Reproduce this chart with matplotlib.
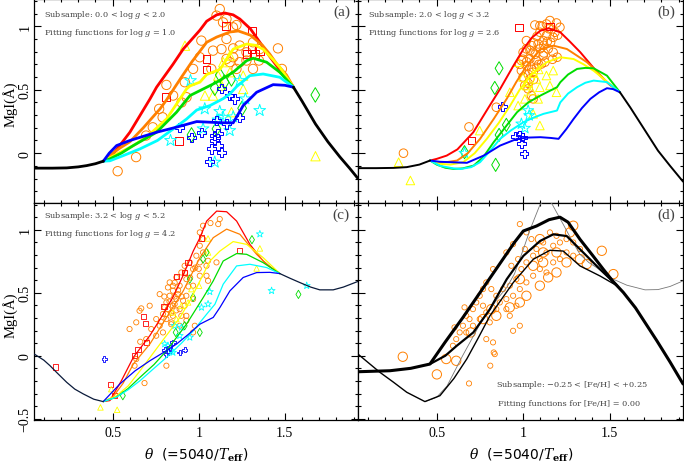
import matplotlib
matplotlib.use('Agg')
import matplotlib.pyplot as plt
from matplotlib.ticker import MultipleLocator, FuncFormatter

plt.rcParams['font.family'] = ['DejaVu Sans']
plt.rcParams['mathtext.fontset'] = 'dejavuserif'

# ------------------------------------------------------------
# colours of the fitting functions / subsamples
# ------------------------------------------------------------
RED, ORANGE, YELLOW = '#ff0000', '#ff8000', '#ffff00'
GREEN, CYAN, BLUE = '#00dd00', '#00ffff', '#0000ff'
NAVY = '#0a1a3a'

# ============================================================
# panel (a): 0.0 < log g < 2.0, fitting functions for log g = 1.0
# ============================================================
A_BLK_L_T = [0.045, 0.15, 0.233, 0.30, 0.349, 0.40, 0.446]
A_BLK_L_Y = [-0.118, -0.118, -0.116, -0.108, -0.098, -0.083, -0.063]
A_BLK_R_T = [1.55, 1.60, 1.678, 1.75, 1.82, 1.877, 1.925]
A_BLK_R_Y = [0.52, 0.41, 0.23, 0.09, -0.03, -0.12, -0.20]
A_RED_T = [0.446, 0.50, 0.523, 0.60, 0.717, 0.755, 0.85, 0.91, 1.007, 1.046, 1.104, 1.15, 1.20, 1.239, 1.30, 1.355, 1.413, 1.452, 1.49, 1.55]
A_RED_Y = [-0.063, -0.01, 0.028, 0.165, 0.428, 0.52, 0.70, 0.821, 0.97, 1.04, 1.09, 1.105, 1.09, 1.057, 0.98, 0.874, 0.76, 0.69, 0.628, 0.52]
A_ORA_T = [0.446, 0.50, 0.542, 0.60, 0.678, 0.775, 0.813, 0.90, 0.96, 1.046, 1.104, 1.181, 1.23, 1.30, 1.37, 1.413, 1.452, 1.51, 1.55]
A_ORA_Y = [-0.063, 0.0, 0.04, 0.09, 0.2, 0.349, 0.42, 0.6, 0.72, 0.874, 0.915, 0.955, 0.963, 0.93, 0.85, 0.78, 0.705, 0.615, 0.52]
A_YEL_T = [0.446, 0.52, 0.62, 0.70, 0.813, 0.852, 0.929, 0.949, 1.007, 1.046, 1.123, 1.2, 1.278, 1.33, 1.374, 1.43, 1.471, 1.55]
A_YEL_Y = [-0.063, -0.01, 0.06, 0.13, 0.27, 0.349, 0.506, 0.53, 0.56, 0.62, 0.66, 0.82, 0.86, 0.85, 0.82, 0.74, 0.677, 0.52]
A_GRN_T = [0.446, 0.484, 0.55, 0.62, 0.755, 0.871, 0.949, 1.026, 1.104, 1.2, 1.278, 1.316, 1.394, 1.471, 1.55]
A_GRN_Y = [-0.063, -0.045, 0.0, 0.06, 0.165, 0.323, 0.454, 0.506, 0.559, 0.638, 0.729, 0.748, 0.717, 0.638, 0.52]
A_CYN_T = [0.446, 0.484, 0.56, 0.659, 0.76, 0.852, 0.93, 0.988, 1.065, 1.142, 1.181, 1.22, 1.297, 1.374, 1.471, 1.55]
A_CYN_Y = [-0.063, -0.06, -0.02, 0.034, 0.1, 0.191, 0.27, 0.34, 0.375, 0.43, 0.467, 0.525, 0.611, 0.624, 0.598, 0.52]
A_BLU_T = [0.446, 0.48, 0.523, 0.6, 0.755, 0.871, 0.988, 1.065, 1.13, 1.2, 1.258, 1.336, 1.432, 1.50, 1.55]
A_BLU_Y = [-0.063, 0.0, 0.06, 0.1, 0.165, 0.205, 0.249, 0.244, 0.24, 0.239, 0.375, 0.48, 0.54, 0.535, 0.52]

A_CIRC_T = [1.122, 1.103, 1.161, 1.199, 1.219, 1.141, 1.015, 1.161, 1.083, 1.132, 1.2, 1.238, 1.277, 1.315, 1.354, 1.46, 1.2, 1.238, 1.18, 1.277,
            1.219, 1.35, 1.483, 1.006, 0.967, 0.919, 0.812, 0.851, 0.929, 0.77, 0.79, 0.9, 0.733, 0.694, 0.636, 0.529, 1.073, 1.161, 1.315]
A_CIRC_Y = [1.136, 1.084, 1.058, 0.992, 1.01, 1.031, 0.887, 0.9, 0.808, 0.82, 0.826, 0.848, 0.795, 0.874, 0.82, 0.826, 0.756, 0.717, 0.717, 0.73,
            0.664, 0.73, 0.664, 0.756, 0.664, 0.559, 0.538, 0.454, 0.441, 0.349, 0.283, 0.4, 0.204, 0.139, -0.031, -0.142, 0.664, 0.743, 0.664]
A_SQ_T = [1.157, 1.045, 1.045, 0.81, 0.884, 1.31, 1.306, 1.354, 1.277, 1.325]
A_SQ_Y = [1.005, 0.743, 0.659, 0.441, 0.094, 0.961, 0.82, 0.808, 0.782, 0.782]
A_TRI_T = [0.92, 1.142, 1.113, 1.181, 1.133, 1.036, 1.258, 1.258, 1.19, 1.181, 1.083, 1.678]
A_TRI_Y = [0.847, 0.717, 0.611, 0.638, 0.532, 0.454, 0.611, 0.506, 0.323, 0.769, 0.454, -0.024]
A_DIA_T = [1.122, 1.19, 1.093, 1.103, 0.958, 1.677, 1.252, 1.15]
A_DIA_Y = [0.616, 0.585, 0.512, 0.192, 0.144, 0.459, 0.354, 0.56]
A_STAR_T = [0.952, 1.035, 1.122, 1.112, 1.025, 1.18, 0.836, 1.093, 1.271, 1.354, 1.238, 1.2, 1.141]
A_STAR_Y = [0.572, 0.349, 0.328, 0.262, 0.192, 0.178, 0.1, -0.071, 0.428, 0.336, 0.572, 0.286, 0.283]
A_PLUS_T = [1.132, 1.18, 1.209, 1.161, 1.103, 1.112, 1.093, 1.112, 1.073, 1.132, 1.064, 1.016, 0.89, 0.958, 1.238, 1.093]
A_PLUS_Y = [0.507, 0.454, 0.428, 0.231, 0.257, 0.152, 0.1, 0.06, 0.034, 0.005, -0.066, 0.165, 0.204, 0.126, 0.283, 0.139]
A_AST_T = [0.535, 0.574, 0.661, 0.68, 0.593, 1.325, 1.386, 1.416, 1.474, 1.495, 1.678, 1.726, 0.91]
A_AST_Y = [-0.066, -0.084, 0.223, 0.17, 0.039, 0.953, 0.906, 0.454, 0.652, 0.566, 0.318, 0.144, 0.472]

# ============================================================
# panel (b): 2.0 < log g < 3.2, fitting functions for log g = 2.6
# ============================================================
B_BLK_L_T = [0.045, 0.15, 0.25, 0.327, 0.40, 0.462]
B_BLK_L_Y = [-0.118, -0.118, -0.116, -0.11, -0.09, -0.058]
B_BLK_R_T = [1.56, 1.62, 1.70, 1.78, 1.85, 1.925]
B_BLK_R_Y = [0.48, 0.36, 0.19, 0.02, -0.10, -0.224]
B_RED_T = [0.462, 0.50, 0.558, 0.62, 0.712, 0.80, 0.867, 0.94, 1.002, 1.05, 1.1, 1.148, 1.215, 1.27, 1.331, 1.39, 1.446, 1.50, 1.56]
B_RED_Y = [-0.058, -0.045, -0.019, 0.03, 0.165, 0.36, 0.506, 0.68, 0.821, 0.91, 0.965, 0.984, 0.953, 0.88, 0.795, 0.70, 0.611, 0.54, 0.48]
B_ORA_T = [0.462, 0.502, 0.56, 0.618, 0.68, 0.751, 0.83, 0.905, 0.96, 1.021, 1.1, 1.176, 1.253, 1.31, 1.369, 1.43, 1.485, 1.56]
B_ORA_Y = [-0.058, -0.071, -0.07, -0.058, 0.0, 0.113, 0.27, 0.428, 0.56, 0.69, 0.821, 0.847, 0.821, 0.77, 0.717, 0.64, 0.559, 0.48]
B_YEL_T = [0.462, 0.519, 0.58, 0.654, 0.72, 0.79, 0.86, 0.925, 0.98, 1.041, 1.137, 1.215, 1.292, 1.35, 1.408, 1.48, 1.56]
B_YEL_Y = [-0.058, -0.084, -0.09, -0.071, 0.0, 0.113, 0.24, 0.375, 0.5, 0.611, 0.717, 0.756, 0.742, 0.70, 0.65, 0.57, 0.48]
B_GRN_T = [0.462, 0.50, 0.55, 0.598, 0.65, 0.714, 0.77, 0.83, 0.9, 0.965, 1.03, 1.1, 1.196, 1.215, 1.26, 1.312, 1.36, 1.408, 1.485, 1.56]
B_GRN_Y = [-0.058, -0.09, -0.115, -0.124, -0.12, -0.098, -0.03, 0.087, 0.21, 0.323, 0.40, 0.454, 0.52, 0.559, 0.62, 0.664, 0.672, 0.669, 0.611, 0.48]
B_CYN_T = [0.462, 0.52, 0.598, 0.637, 0.70, 0.751, 0.81, 0.867, 0.93, 1.002, 1.06, 1.118, 1.196, 1.215, 1.26, 1.312, 1.36, 1.408, 1.485, 1.56]
B_CYN_Y = [-0.058, -0.10, -0.12, -0.125, -0.11, -0.071, 0.02, 0.113, 0.18, 0.244, 0.28, 0.31, 0.336, 0.40, 0.47, 0.52, 0.555, 0.572, 0.56, 0.48]
B_BLU_T = [0.462, 0.52, 0.579, 0.675, 0.772, 0.867, 0.965, 1.03, 1.1, 1.16, 1.205, 1.25, 1.292, 1.34, 1.389, 1.44, 1.485, 1.52, 1.56]
B_BLU_Y = [-0.058, -0.068, -0.071, -0.076, -0.019, 0.06, 0.113, 0.123, 0.126, 0.12, 0.113, 0.19, 0.27, 0.355, 0.428, 0.48, 0.512, 0.505, 0.48]

B_CIRC_T = [1.135, 1.155, 1.193, 1.068, 1.097, 1.135, 1.184, 1.097, 1.019, 1.0, 1.039, 1.077, 1.116, 1.145, 1.174, 1.197, 1.019, 1.058, 1.039, 1.01,
            1.077, 1.106, 0.99, 1.116, 1.159, 1.048, 1.087, 1.019, 1.058, 1.029, 1.048, 1.058, 0.845, 0.687, 0.308, 0.99, 1.126, 1.174, 1.213, 1.097,
            1.0, 1.03, 1.07, 1.09, 1.12, 1.06, 1.04, 1.08, 1.15, 1.11, 1.02, 0.98, 1.0, 1.05, 1.03, 1.06, 1.12, 1.17, 1.14, 1.2]
B_CIRC_Y = [1.018, 1.045, 1.026, 1.01, 0.953, 0.927, 0.953, 0.822, 0.887, 0.795, 0.743, 0.73, 0.769, 0.822, 0.795, 0.756, 0.69, 0.638, 0.585, 0.533,
            0.677, 0.703, 0.651, 0.887, 0.874, 0.848, 0.861, 0.822, 0.795, 0.507, 0.454, 0.428, 0.362, 0.207, 0.0, 0.73, 0.717, 0.913, 0.992, 1.005,
            0.6, 0.62, 0.78, 0.7, 0.85, 0.87, 0.81, 0.92, 0.98, 1.0, 0.72, 0.7, 0.74, 0.66, 0.55, 0.58, 0.79, 0.74, 0.88, 0.93]
B_SQ_T = [0.977, 0.7, 1.155]
B_SQ_Y = [0.99, 0.1, 1.0]
B_TRI_T = [1.077, 1.097, 1.019, 1.048, 0.971, 1.01, 1.135, 1.174, 1.193, 1.097, 0.971, 0.923, 1.155, 0.749, 0.28, 0.348, 1.087, 1.058, 1.03, 1.06, 1.0, 1.09]
B_TRI_Y = [0.585, 0.52, 0.533, 0.493, 0.375, 0.428, 0.612, 0.651, 0.48, 0.218, 0.717, 0.48, 0.533, 0.178, -0.071, -0.215, 0.428, 0.31, 0.56, 0.63, 0.6, 0.66]
B_DIA_T = [0.861, 0.836, 0.903, 0.861, 0.841, 0.661]
B_DIA_Y = [0.669, 0.514, 0.223, 0.144, -0.092, 0.008]
B_STAR_T = [1.029, 1.035, 0.99, 1.01, 0.661]
B_STAR_Y = [0.336, 0.297, 0.231, 0.197, 0.0]
B_PLUS_T = [0.88, 0.957, 0.981, 0.996, 0.99, 1.006]
B_PLUS_Y = [0.37, 0.134, 0.144, 0.126, 0.073, -0.005]
B_AST_T = [0.153, 0.139, 0.213, 0.172, 0.222, 0.261, 0.284, 0.333, 0.373, 0.366, 0.41, 0.555, 0.613, 0.642, 0.71, 0.83, 0.899, 1.029, 1.062, 1.039]
B_AST_Y = [0.003, -0.181, -0.171, -0.129, -0.123, -0.01, -0.126, -0.108, -0.152, -0.037, 0.02, -0.017, -0.058, 0.0, 0.16, 0.263, 0.349, 0.651, 0.722, 0.349]

# ============================================================
# panel (c): 3.2 < log g < 5.2, fitting functions for log g = 4.2
# ============================================================
C_BLK_L_T = [0.045, 0.10, 0.136, 0.18, 0.233, 0.28, 0.329, 0.39, 0.445]
C_BLK_L_Y = [0.013, -0.035, -0.079, -0.14, -0.211, -0.265, -0.303, -0.345, -0.364]
C_BLK_R_T = [1.471, 1.53, 1.587, 1.65, 1.703, 1.781, 1.84, 1.925]
C_BLK_R_Y = [0.652, 0.615, 0.581, 0.545, 0.523, 0.523, 0.545, 0.59]
C_RED_T = [0.445, 0.484, 0.55, 0.62, 0.716, 0.78, 0.852, 0.91, 0.968, 1.007, 1.046, 1.104, 1.162, 1.22, 1.297, 1.374, 1.42, 1.471]
C_RED_Y = [-0.364, -0.356, -0.2, -0.013, 0.16, 0.3, 0.47, 0.64, 0.831, 0.937, 1.069, 1.148, 1.143, 1.069, 0.884, 0.752, 0.70, 0.652]
C_ORA_T = [0.445, 0.50, 0.56, 0.62, 0.716, 0.813, 0.91, 1.007, 1.084, 1.162, 1.239, 1.336, 1.40, 1.471]
C_ORA_Y = [-0.364, -0.33, -0.22, -0.066, 0.093, 0.304, 0.515, 0.779, 0.937, 1.005, 0.964, 0.805, 0.72, 0.652]
C_YEL_T = [0.445, 0.52, 0.59, 0.659, 0.775, 0.891, 0.95, 1.007, 1.065, 1.123, 1.2, 1.278, 1.374, 1.471]
C_YEL_Y = [-0.364, -0.32, -0.24, -0.119, 0.093, 0.304, 0.44, 0.594, 0.752, 0.831, 0.906, 0.884, 0.779, 0.652]
C_GRN_T = [0.445, 0.52, 0.59, 0.659, 0.74, 0.813, 0.929, 1.026, 1.084, 1.142, 1.22, 1.278, 1.374, 1.471]
C_GRN_Y = [-0.364, -0.33, -0.26, -0.171, -0.07, 0.04, 0.251, 0.462, 0.594, 0.752, 0.811, 0.805, 0.739, 0.652]
C_CYN_T = [0.445, 0.52, 0.59, 0.659, 0.74, 0.813, 0.9, 0.968, 1.046, 1.094, 1.142, 1.22, 1.297, 1.394, 1.471]
C_CYN_Y = [-0.364, -0.33, -0.27, -0.198, -0.1, -0.013, 0.1, 0.198, 0.33, 0.409, 0.568, 0.713, 0.726, 0.70, 0.652]
C_BLU_T = [0.445, 0.542, 0.63, 0.716, 0.80, 0.871, 0.94, 1.007, 1.084, 1.123, 1.181, 1.258, 1.336, 1.413, 1.471]
C_BLU_Y = [-0.364, -0.224, -0.12, -0.04, 0.03, 0.093, 0.17, 0.251, 0.304, 0.383, 0.515, 0.621, 0.66, 0.662, 0.652]

C_CIRC_T = [1.068, 1.025, 1.006, 1.025, 0.986, 0.948, 0.918, 0.899, 0.967, 1.006, 1.045, 0.928, 0.87, 0.889, 0.85, 0.831, 0.87, 0.812, 0.85, 0.821,
            0.792, 0.812, 0.85, 0.773, 0.792, 0.753, 0.773, 0.715, 0.656, 0.637, 0.66, 0.598, 0.666, 0.928, 0.967, 1.006, 1.045, 1.103, 1.113, 1.122,
            0.967, 0.918, 0.889, 0.928, 0.977, 0.967, 0.928, 0.889, 0.812, 0.685, 0.85, 0.879, 0.909, 0.831, 0.821, 0.86, 0.899, 0.802, 0.841, 0.753,
            0.724, 0.695, 0.637, 0.627, 1.006, 1.025, 1.054, 1.054, 0.84, 0.86, 0.88, 0.83, 0.87, 0.9, 0.94, 0.95, 0.81, 0.8, 0.86, 0.92,
            0.98, 1.0, 0.84, 0.78]
C_CIRC_Y = [1.053, 0.926, 0.873, 0.82, 0.794, 0.741, 0.714, 0.661, 0.688, 0.741, 0.714, 0.608, 0.622, 0.556, 0.516, 0.476, 0.45, 0.423, 0.397, 0.37,
            0.331, 0.291, 0.317, 0.238, 0.185, 0.159, 0.489, 0.397, 0.357, 0.265, 0.111, 0.212, 0.376, 0.476, 0.556, 0.635, 0.635, 0.741, 1.045, 1.085,
            0.45, 0.397, 0.37, 0.317, 0.238, 0.185, 0.278, 0.238, -0.079, -0.217, 0.556, 0.489, 0.437, 0.582, 0.542, 0.41, 0.317, 0.384, 0.265, 0.291,
            0.212, 0.132, -0.026, -0.079, 0.979, 1.032, 0.754, 0.595, 0.34, 0.47, 0.52, 0.43, 0.36, 0.47, 0.55, 0.62, 0.33, 0.47, 0.58, 0.66,
            0.7, 0.69, 0.25, 0.27]
C_SQ_T = [0.167, 0.487, 0.511, 0.627, 0.647, 0.695, 0.68, 0.689, 0.798, 0.87, 0.918, 1.016, 1.239, 0.938]
C_SQ_Y = [-0.09, -0.23, -0.317, 0.0, 0.048, 0.106, 0.312, 0.259, 0.389, 0.63, 0.661, 0.934, 0.833, 0.741]
C_TRI_T = [0.429, 0.526, 0.492, 0.957, 0.899, 0.87, 0.938, 1.002, 1.054, 1.054, 1.355, 1.336, 0.85]
C_TRI_Y = [-0.41, -0.429, -0.265, 0.529, 0.397, 0.291, 0.423, 0.556, 0.82, 0.931, 0.852, 0.693, 0.344]
C_DIA_T = [0.559, 1.309, 1.579, 1.006, 0.967, 0.918, 1.025, 1.045, 0.948, 0.866]
C_DIA_Y = [-0.317, 0.921, 0.487, 0.185, 0.463, 0.238, 0.767, 0.82, 0.608, 0.185]
C_STAR_T = [1.355, 1.423, 1.627, 1.064, 1.054, 1.016, 0.948, 0.899, 0.821, 0.84, 0.85, 0.802, 0.889, 0.86]
C_STAR_Y = [0.966, 0.516, 0.556, 0.508, 0.41, 0.384, 0.146, 0.225, 0.079, 0.04, 0.026, 0.093, 0.159, 0.238]
C_PLUS_T = [0.452, 0.889, 0.918, 0.812, 0.821, 0.802, 0.831, 0.85]
C_PLUS_Y = [-0.026, 0.026, 0.048, 0.013, 0.032, 0.048, 0.066, 0.106]
C_AST_T = [0.132, 0.136, 0.248, 0.355, 0.39, 0.448, 0.48, 0.529, 0.515, 0.599, 0.606, 0.612, 0.647, 0.709, 0.823, 1.006, 1.161, 1.19, 1.249,
           1.443, 1.462, 1.53, 1.55, 1.579, 1.841, 1.808]
C_AST_Y = [-0.071, -0.193, -0.344, -0.357, -0.225, -0.291, -0.265, -0.198, -0.362, -0.362, -0.206, -0.238, -0.013, 0.153, 0.238, 0.595, 1.053,
           1.077, 0.934, 0.608, 0.468, 0.524, 0.556, 0.64, 0.595, 0.484]

# ============================================================
# panel (d): -0.25 < [Fe/H] < +0.25, fitting functions for [Fe/H] = 0.00
# ============================================================
D_G10_T = [0.045, 0.23, 0.35, 0.461, 0.55, 0.65, 0.75, 0.85, 0.95, 1.001, 1.078, 1.15, 1.213, 1.26, 1.329, 1.40, 1.464, 1.52, 1.58, 1.65,
           1.773, 1.85, 1.925]
D_G10_Y = [-0.127, -0.119, -0.10, -0.066, 0.11, 0.30, 0.50, 0.70, 0.90, 0.99, 1.03, 1.08, 1.10, 1.06, 0.924, 0.80, 0.686, 0.59, 0.502, 0.38,
           0.12, -0.05, -0.224]
D_G26_T = [0.461, 0.55, 0.616, 0.712, 0.808, 0.905, 1.001, 1.098, 1.175, 1.252, 1.329, 1.445, 1.541]
D_G26_Y = [-0.066, 0.0, 0.079, 0.185, 0.37, 0.607, 0.792, 0.911, 0.964, 0.95, 0.845, 0.686, 0.56]
D_G42_T = [0.045, 0.10, 0.172, 0.25, 0.327, 0.432, 0.519, 0.60, 0.674, 0.74, 0.808, 0.943, 1.059, 1.155, 1.232, 1.329, 1.445, 1.55]
D_G42_Y = [0.013, -0.05, -0.132, -0.21, -0.29, -0.364, -0.317, -0.18, -0.026, 0.14, 0.317, 0.581, 0.766, 0.837, 0.831, 0.713, 0.633, 0.55]
D_GRY_T = [0.432, 0.50, 0.56, 0.65, 0.75, 0.85, 0.905, 0.95, 1.0, 1.04, 1.098, 1.13, 1.165, 1.232, 1.28, 1.329, 1.38, 1.425, 1.522, 1.60,
           1.705, 1.78, 1.85, 1.925]
D_GRY_Y = [-0.364, -0.33, -0.24, 0.0, 0.25, 0.45, 0.541, 0.65, 0.84, 1.0, 1.2, 1.24, 1.21, 1.043, 0.92, 0.805, 0.74, 0.70, 0.607, 0.56,
           0.523, 0.525, 0.55, 0.594]

D_CS_T = [0.981, 1.019, 0.942, 0.903, 0.826, 0.787, 0.768, 0.749, 0.729, 0.71, 0.661, 0.671, 0.69, 0.652, 0.633, 0.603, 0.613, 0.594, 0.671, 0.71,
          0.749, 0.787, 0.807, 0.826, 0.787, 0.81, 0.83, 0.836, 0.687, 0.942, 0.981, 0.923, 0.903, 0.865, 0.845, 0.884, 0.923, 0.961, 0.99, 1.019,
          1.058, 1.097, 1.135, 1.174, 1.213, 1.251, 1.29, 1.329, 1.097, 1.135, 1.058, 1.019, 0.981, 0.942, 0.961, 0.903, 0.845, 0.816, 0.768, 1.174,
          1.213, 1.251, 1.29, 1.077, 1.116, 1.155, 1.193, 1.048, 1.01, 0.971, 0.932]
D_CS_Y = [1.045, 0.979, 0.886, 0.82, 0.688, 0.582, 0.529, 0.476, 0.423, 0.37, 0.384, 0.317, 0.291, 0.238, 0.185, 0.225, 0.132, 0.079, 0.185, 0.238,
          0.291, 0.344, 0.265, 0.106, 0.132, -0.079, 0.026, 0.013, -0.22, 0.198, 0.238, 0.317, 0.45, 0.423, 0.476, 0.529, 0.556, 0.608, 0.688, 0.741,
          0.794, 0.767, 0.82, 0.873, 0.899, 0.926, 0.899, 0.847, 0.688, 0.661, 0.635, 0.582, 0.529, 0.476, 0.397, 0.37, 0.37, 0.529, 0.397, 0.741,
          0.767, 0.82, 0.794, 0.847, 0.899, 0.979, 0.952, 0.926, 0.847, 0.767, 0.714]
D_CB_T = [1.29, 1.271, 1.455, 1.522, 1.116, 1.145, 1.193, 1.097, 1.019, 0.981, 0.923, 0.845, 0.816, 0.768, 0.697, 0.613, 0.555, 0.501, 0.304, 1.097,
          1.193, 1.058, 0.981, 1.329, 1.368, 1.251, 1.116]
D_CB_Y = [1.032, 0.979, 0.833, 0.648, 0.82, 0.622, 0.661, 0.556, 0.476, 0.423, 0.384, 0.317, 0.37, 0.291, 0.185, -0.04, -0.026, -0.148, -0.008, 0.926,
          0.82, 0.714, 0.608, 0.767, 0.728, 0.741, 0.741]
D_AB_T = [1.383, 1.416, 1.677, 1.725, 1.377, 0.652, 0.671, 0.571, 0.536, 0.516, 0.4, 0.362, 0.255, 0.153, 0.222, 0.28, 0.371, 0.385, 1.522, 1.547]
D_AB_Y = [0.905, 0.444, 0.31, 0.138, 0.714, 0.217, 0.172, -0.079, -0.093, -0.119, 0.013, -0.04, -0.026, -0.008, -0.138, -0.138, -0.164, -0.225, 0.661, 0.556]
D_AS_T = [0.443, 0.474, 0.133, 0.241, 0.346, 0.511, 0.594, 0.603, 0.613, 0.526, 0.584, 0.632, 0.826, 0.903, 1.039, 1.155, 1.464, 1.58, 1.832, 1.803, 1.445]
D_AS_Y = [-0.291, -0.265, -0.193, -0.344, -0.357, -0.362, -0.365, -0.206, -0.233, -0.206, 0.026, -0.005, 0.251, 0.336, 0.339, 0.926, 0.463, 0.635, 0.595, 0.484, 0.601]

THETA_LIM = (0.045, 1.925)
TOP_YLIM = (-0.395, 1.215)
BOT_YLIM = (-0.51, 1.21)

AST = (6, 2, 0)
TXT_C = '#444444'
SERIF = 'Liberation Serif'


def num_fmt(v, pos):
    return ('%g' % v).replace('-', '\u2212')


def style_axis(ax, ylim, xlabels, ylabels):
    ax.set_xlim(*THETA_LIM)
    ax.set_ylim(*ylim)
    ax.xaxis.set_major_locator(MultipleLocator(0.5))
    ax.xaxis.set_minor_locator(MultipleLocator(0.1))
    ax.yaxis.set_major_locator(MultipleLocator(0.5))
    ax.yaxis.set_minor_locator(MultipleLocator(0.1))
    ax.xaxis.set_major_formatter(FuncFormatter(num_fmt))
    ax.yaxis.set_major_formatter(FuncFormatter(num_fmt))
    ax.tick_params(which='both', direction='in', top=True, right=True, width=0.8, labelsize=10)
    ax.tick_params(which='major', length=5)
    ax.tick_params(which='minor', length=2.5)
    ax.tick_params(axis='x', pad=4)
    ax.tick_params(axis='y', pad=2)
    for sp in ax.spines.values():
        sp.set_linewidth(0.9)
    if not xlabels:
        ax.set_xticklabels([])
    if not ylabels:
        ax.set_yticklabels([])
    for lbl in ax.get_xticklabels() + ax.get_yticklabels():
        lbl.set_family(SERIF)
    if ylabels:
        for lbl in ax.get_yticklabels():
            lbl.set_rotation(90)
            lbl.set_va('center')


def marks(ax, t, y, marker, color, s, lw=0.7):
    ax.scatter(t, y, s=s, marker=marker, facecolors='none', edgecolors=color, linewidths=lw, zorder=2)


def line(ax, t, y, color, lw):
    ax.plot(t, y, color=color, lw=lw, zorder=3, solid_joinstyle='round', solid_capstyle='round')


def note(ax, x, y, s):
    ax.text(x, y, s, transform=ax.transAxes, fontsize=5.9, color=TXT_C, family='DejaVu Serif')


def tag(ax, y, s):
    ax.text(0.975, y, s, transform=ax.transAxes, ha='right', va='center', fontsize=11,
            family=SERIF, color=TXT_C)


fig = plt.figure(figsize=(6.84, 4.64), dpi=100)
ax_a = fig.add_axes([0.0502, 0.5597, 0.4732, 0.4403])
ax_b = fig.add_axes([0.5234, 0.5597, 0.4752, 0.4403])
ax_c = fig.add_axes([0.0502, 0.0927, 0.4732, 0.4670])
ax_d = fig.add_axes([0.5234, 0.0927, 0.4752, 0.4670])

# --- (a) ---
ax = ax_a
marks(ax, A_CIRC_T, A_CIRC_Y, 'o', ORANGE, 45)
marks(ax, A_SQ_T, A_SQ_Y, 's', RED, 32)
marks(ax, A_TRI_T, A_TRI_Y, '^', YELLOW, 45)
marks(ax, A_DIA_T, A_DIA_Y, 'd', GREEN, 55)
marks(ax, A_STAR_T, A_STAR_Y, '*', CYAN, 80)
marks(ax, A_PLUS_T, A_PLUS_Y, 'P', BLUE, 45)
marks(ax, A_AST_T, A_AST_Y, AST, 'black', 45, 0.9)
lw = 2.0
line(ax, A_RED_T, A_RED_Y, RED, lw)
line(ax, A_ORA_T, A_ORA_Y, ORANGE, lw)
line(ax, A_YEL_T, A_YEL_Y, YELLOW, lw)
line(ax, A_GRN_T, A_GRN_Y, GREEN, lw)
line(ax, A_CYN_T, A_CYN_Y, CYAN, lw)
line(ax, A_BLU_T, A_BLU_Y, BLUE, lw)
line(ax, A_BLK_L_T, A_BLK_L_Y, 'black', lw)
line(ax, A_BLK_R_T, A_BLK_R_Y, 'black', lw)
style_axis(ax, TOP_YLIM, False, True)
note(ax, 0.03, 0.915, 'Subsample: 0.0 < log $g$ < 2.0')
note(ax, 0.03, 0.83, 'Fitting functions for log $g$ = 1.0')
tag(ax, 0.94, '(a)')

# --- (b) ---
ax = ax_b
marks(ax, B_CIRC_T, B_CIRC_Y, 'o', ORANGE, 38)
marks(ax, B_SQ_T, B_SQ_Y, 's', RED, 28)
marks(ax, B_TRI_T, B_TRI_Y, '^', YELLOW, 38)
marks(ax, B_DIA_T, B_DIA_Y, 'd', GREEN, 45)
marks(ax, B_STAR_T, B_STAR_Y, '*', CYAN, 70)
marks(ax, B_PLUS_T, B_PLUS_Y, 'P', BLUE, 38)
marks(ax, B_AST_T, B_AST_Y, AST, 'black', 35, 0.8)
lw = 1.4
line(ax, B_RED_T, B_RED_Y, RED, lw)
line(ax, B_ORA_T, B_ORA_Y, ORANGE, lw)
line(ax, B_YEL_T, B_YEL_Y, YELLOW, lw)
line(ax, B_GRN_T, B_GRN_Y, GREEN, lw)
line(ax, B_CYN_T, B_CYN_Y, CYAN, lw)
line(ax, B_BLU_T, B_BLU_Y, BLUE, lw)
line(ax, B_BLK_L_T, B_BLK_L_Y, 'black', lw)
line(ax, B_BLK_R_T, B_BLK_R_Y, 'black', lw)
style_axis(ax, TOP_YLIM, False, False)
note(ax, 0.03, 0.915, 'Subsample: 2.0 < log $g$ < 3.2')
note(ax, 0.03, 0.83, 'Fitting functions for log $g$ = 2.6')
tag(ax, 0.94, '(b)')

# --- (c) ---
ax = ax_c
marks(ax, C_CIRC_T, C_CIRC_Y, 'o', ORANGE, 14, 0.6)
marks(ax, C_SQ_T, C_SQ_Y, 's', RED, 14, 0.6)
marks(ax, C_TRI_T, C_TRI_Y, '^', YELLOW, 16, 0.6)
marks(ax, C_DIA_T, C_DIA_Y, 'd', GREEN, 18, 0.6)
marks(ax, C_STAR_T, C_STAR_Y, '*', CYAN, 28, 0.6)
marks(ax, C_PLUS_T, C_PLUS_Y, 'P', BLUE, 16, 0.6)
marks(ax, C_AST_T, C_AST_Y, AST, 'black', 12, 0.7)
lw = 0.9
line(ax, C_RED_T, C_RED_Y, RED, lw)
line(ax, C_ORA_T, C_ORA_Y, ORANGE, lw)
line(ax, C_YEL_T, C_YEL_Y, YELLOW, lw)
line(ax, C_GRN_T, C_GRN_Y, GREEN, lw)
line(ax, C_CYN_T, C_CYN_Y, CYAN, lw)
line(ax, C_BLU_T, C_BLU_Y, BLUE, lw)
line(ax, C_BLK_L_T, C_BLK_L_Y, NAVY, lw)
line(ax, C_BLK_R_T, C_BLK_R_Y, NAVY, lw)
style_axis(ax, BOT_YLIM, True, True)
note(ax, 0.03, 0.935, 'Subsample: 3.2 < log $g$ < 5.2')
note(ax, 0.03, 0.855, 'Fitting functions for log $g$ = 4.2')
tag(ax, 0.95, '(c)')

# --- (d) ---
ax = ax_d
marks(ax, D_CS_T, D_CS_Y, 'o', ORANGE, 14, 0.6)
marks(ax, D_CB_T, D_CB_Y, 'o', ORANGE, 45, 0.7)
marks(ax, D_AS_T, D_AS_Y, AST, 'black', 12, 0.7)
marks(ax, D_AB_T, D_AB_Y, AST, 'black', 40, 0.9)
line(ax, D_GRY_T, D_GRY_Y, '#777777', 0.6)
line(ax, D_G42_T, D_G42_Y, 'black', 1.0)
line(ax, D_G26_T, D_G26_Y, 'black', 1.6)
line(ax, D_G10_T, D_G10_Y, 'black', 2.2)
style_axis(ax, BOT_YLIM, True, False)
tag(ax, 0.95, '(d)')
note(ax, 0.425, 0.155, 'Subsample: $-$0.25 < [Fe/H] < +0.25')
note(ax, 0.43, 0.07, 'Fitting functions for [Fe/H] = 0.00')

# axis titles placed at the reference positions
for yc in (0.776, 0.320):
    fig.text(10 / 684, yc, 'MgI(Å)', rotation=90, ha='center', va='center', fontsize=10.5, family=SERIF)
for xc in (196 / 684, 521 / 684):
    fig.text(xc, 1 - 455 / 464, r'$\theta$  (=5040/$T_{\mathbf{eff}}$)', ha='center', va='center', fontsize=10)

fig.savefig('out.png', dpi=100)
